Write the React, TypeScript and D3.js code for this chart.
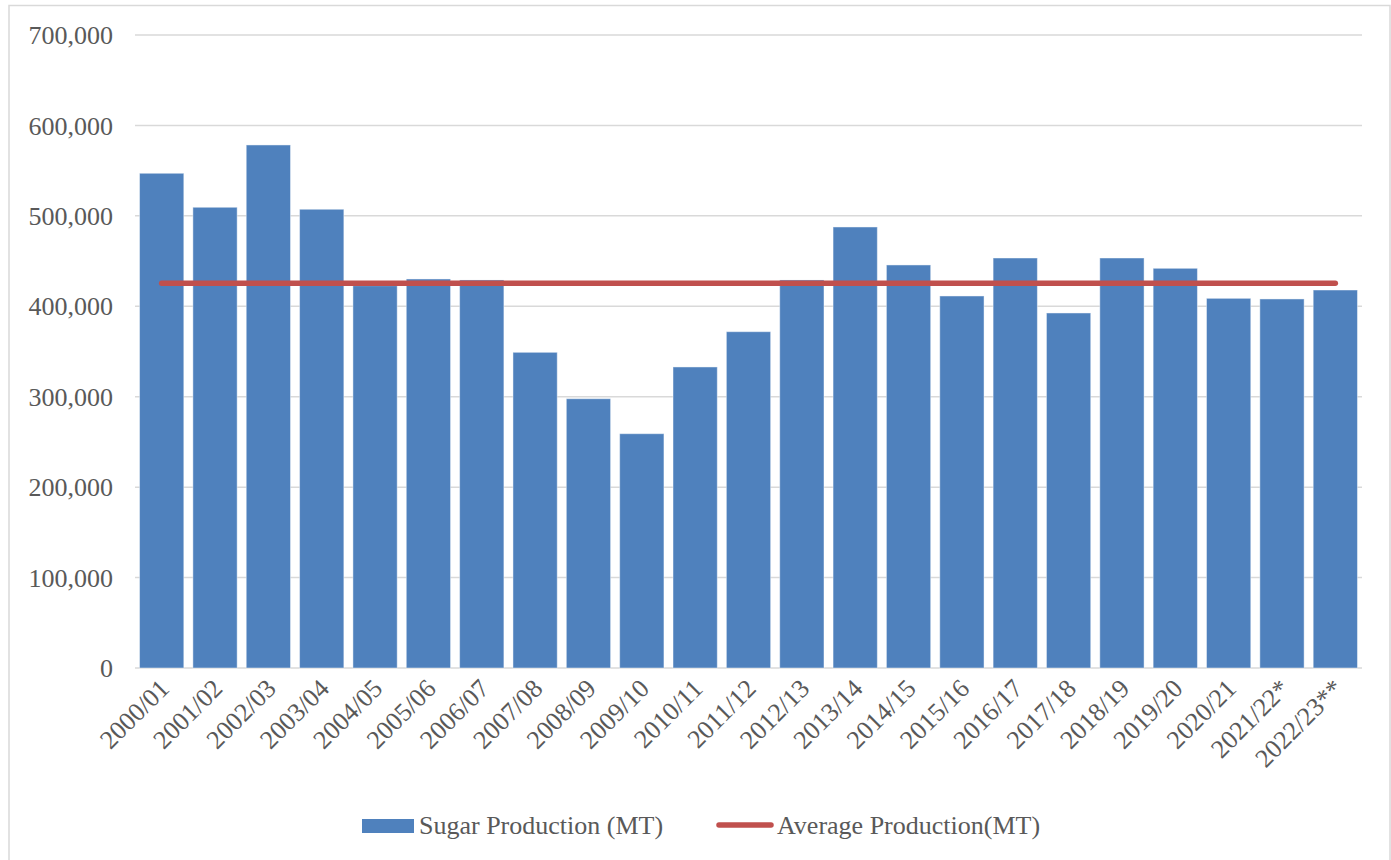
import React from "react";
import * as d3 from "d3";

const seasons = [
  "2000/01", "2001/02", "2002/03", "2003/04", "2004/05", "2005/06", "2006/07",
  "2007/08", "2008/09", "2009/10", "2010/11", "2011/12", "2012/13", "2013/14",
  "2014/15", "2015/16", "2016/17", "2017/18", "2018/19", "2019/20", "2020/21",
  "2021/22*", "2022/23**",
];

const sugarProduction = [
  547100, 509500, 578400, 507300, 422800, 430200, 429100,
  349100, 297800, 259100, 332900, 371900, 429100, 487700,
  445700, 411400, 453400, 392600, 453400, 442000, 408800,
  408100, 418000,
];

const averageProduction = [
  425400, 425400, 425400, 425400, 425400, 425400, 425400,
  425400, 425400, 425400, 425400, 425400, 425400, 425400,
  425400, 425400, 425400, 425400, 425400, 425400, 425400,
  425400, 425400,
];

const yTicks = [0, 100000, 200000, 300000, 400000, 500000, 600000, 700000];

const legendLabels = ["Sugar Production (MT)", "Average Production(MT)"];

const W = 1391;
const H = 860;
const M = { left: 135, right: 1362, top: 35, bottom: 668 };
const FONT = "Liberation Serif, Times New Roman, serif";
const TXT = "#595959";
const BLUE = "#4F81BD";
const RED = "#C0504D";
const GRID = "#D9D9D9";

export default function App() {
  const x = d3
    .scaleBand<string>()
    .domain(seasons)
    .range([M.left, M.right])
    .paddingInner(0.17)
    .paddingOuter(0.085);
  const y = d3.scaleLinear().domain([0, 700000]).range([M.bottom, M.top]);
  const fmt = d3.format(",");

  const line = d3
    .line<number>()
    .x((_, i) => (x(seasons[i]) as number) + x.bandwidth() / 2)
    .y((d) => y(d));

  return (
    <svg
      width={W}
      height={H}
      style={{ position: "absolute", left: 0, top: 0, background: "#fff" }}
    >
      <rect x={9} y={5.5} width={1381} height={H} fill="#fff" stroke={GRID} strokeWidth={1.5} />
      {yTicks.map((t) => (
        <line
          key={t}
          x1={M.left}
          x2={M.right}
          y1={y(t)}
          y2={y(t)}
          stroke={GRID}
          strokeWidth={1.5}
        />
      ))}
      {yTicks.map((t) => (
        <text
          key={"l" + t}
          x={113}
          y={y(t)}
          dy="0.35em"
          textAnchor="end"
          fontFamily={FONT}
          fontSize={26}
          fill={TXT}
        >
          {fmt(t)}
        </text>
      ))}
      {sugarProduction.map((v, i) => (
        <rect
          key={seasons[i]}
          x={x(seasons[i])}
          y={y(v)}
          width={x.bandwidth()}
          height={y(0) - y(v)}
          fill={BLUE}
          stroke="#ffffff"
          strokeOpacity={0.45}
          strokeWidth={1}
        />
      ))}
      <path
        d={line(averageProduction) || ""}
        fill="none"
        stroke={RED}
        strokeWidth={5.5}
        strokeLinecap="round"
      />
      {seasons.map((s) => {
        const cx = (x(s) as number) + x.bandwidth() / 2;
        return (
          <text
            key={"x" + s}
            transform={`translate(${cx + 9},${M.bottom + 22}) rotate(-45)`}
            textAnchor="end"
            fontFamily={FONT}
            fontSize={26}
            fill={TXT}
          >
            {s}
          </text>
        );
      })}
      <rect x={362} y={819} width={52} height={14} fill={BLUE} />
      <text x={419} y={834} fontFamily={FONT} fontSize={26} fill={TXT}>
        {legendLabels[0]}
      </text>
      <line x1={719} x2={771} y1={825} y2={825} stroke={RED} strokeWidth={5.5} strokeLinecap="round" />
      <text x={777} y={834} fontFamily={FONT} fontSize={26} fill={TXT}>
        {legendLabels[1]}
      </text>
    </svg>
  );
}
